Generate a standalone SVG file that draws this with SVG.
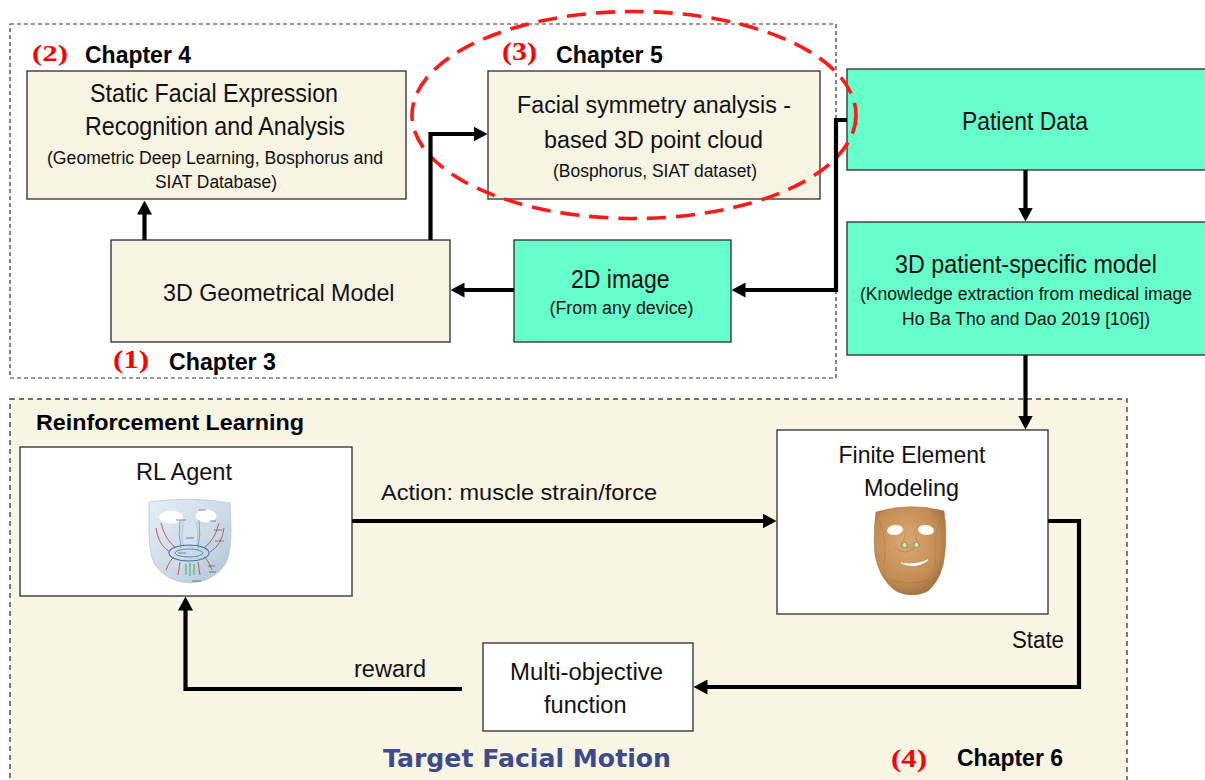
<svg xmlns="http://www.w3.org/2000/svg" width="1205" height="780" viewBox="0 0 1205 780">
  <style>
    .box { stroke: #2b2b2b; stroke-width: 1.3; }
    .beige { fill: #F8F4E3; }
    .aqua { fill: #66FFCC; }
    .white { fill: #FFFFFF; }
    .t { font-family: "Liberation Sans", Arial, sans-serif; fill: #111; }
    .b { font-family: "Liberation Sans", Arial, sans-serif; font-weight: bold; fill: #000; }
    .num { font-family: "Liberation Serif", "Times New Roman", serif; font-weight: bold; fill: #FF0000; }
    .conn { fill: none; stroke: #000; stroke-width: 4.2; stroke-linejoin: miter; }
    .frame { fill: none; stroke: #333; stroke-width: 1.2; stroke-dasharray: 4 3; }
  </style>
  <defs>
    <marker id="head" viewBox="0 0 14 15" refX="0.5" refY="7.5" markerWidth="14" markerHeight="15" orient="auto" markerUnits="userSpaceOnUse">
      <path d="M0,0 L14,7.5 L0,15 Z" fill="#000"/>
    </marker>
    <linearGradient id="maskBlue" x1="0" y1="0" x2="1" y2="1">
      <stop offset="0" stop-color="#E6EEF5"/>
      <stop offset="0.6" stop-color="#C9D9E6"/>
      <stop offset="1" stop-color="#AFC3D4"/>
    </linearGradient>
    <radialGradient id="skin" cx="0.45" cy="0.4" r="0.65">
      <stop offset="0" stop-color="#DDAA72"/>
      <stop offset="0.7" stop-color="#C38C55"/>
      <stop offset="1" stop-color="#9E6B3A"/>
    </radialGradient>
  </defs>

  <rect width="1205" height="780" fill="#FFFFFF"/>

  <!-- Upper frame (chapters 3 to 5) -->
  <rect class="frame" x="10" y="24" width="826" height="354"/>

  <!-- Lower panel: reinforcement learning loop (chapter 6) -->
  <rect x="10" y="399" width="1117" height="400" fill="#F9F5E5" stroke="#444" stroke-width="1.4" stroke-dasharray="5 4"/>

  <!-- Node: static facial expression recognition -->
  <g id="static-fer">
    <rect class="box beige" x="27" y="71" width="379" height="128"/>
    <text class="t" x="90" y="101.5" font-size="25" textLength="248" lengthAdjust="spacingAndGlyphs">Static Facial Expression</text>
    <text class="t" x="85" y="135" font-size="25" textLength="260" lengthAdjust="spacingAndGlyphs">Recognition and Analysis</text>
    <text class="t" x="47" y="164" font-size="18" textLength="336" lengthAdjust="spacingAndGlyphs">(Geometric Deep Learning, Bosphorus and</text>
    <text class="t" x="155" y="188" font-size="18" textLength="122" lengthAdjust="spacingAndGlyphs">SIAT Database)</text>
  </g>
  <g id="chapter4-label">
    <text class="num" x="32" y="61" font-size="24" textLength="36" lengthAdjust="spacingAndGlyphs">(2)</text>
    <text class="b" x="85" y="62.5" font-size="23" textLength="106" lengthAdjust="spacingAndGlyphs">Chapter 4</text>
  </g>

  <!-- Node: facial symmetry analysis -->
  <g id="symmetry">
    <rect class="box beige" x="488" y="71" width="332" height="128"/>
    <text class="t" x="517" y="113.3" font-size="23.5" textLength="274" lengthAdjust="spacingAndGlyphs">Facial symmetry analysis -</text>
    <text class="t" x="544" y="148.3" font-size="23.5" textLength="219" lengthAdjust="spacingAndGlyphs">based 3D point cloud</text>
    <text class="t" x="553" y="176.7" font-size="17.5" textLength="204" lengthAdjust="spacingAndGlyphs">(Bosphorus, SIAT dataset)</text>
  </g>
  <g id="chapter5-label">
    <text class="num" x="502" y="60" font-size="26" textLength="35" lengthAdjust="spacingAndGlyphs">(3)</text>
    <text class="b" x="556" y="62.5" font-size="23" textLength="107" lengthAdjust="spacingAndGlyphs">Chapter 5</text>
  </g>

  <!-- Node: 3D geometrical model -->
  <g id="geometrical-model">
    <rect class="box beige" x="111" y="240" width="339" height="102"/>
    <text class="t" x="163" y="301" font-size="24.5" textLength="231.5" lengthAdjust="spacingAndGlyphs">3D Geometrical Model</text>
  </g>
  <g id="chapter3-label">
    <text class="num" x="113" y="367.5" font-size="26" textLength="36" lengthAdjust="spacingAndGlyphs">(1)</text>
    <text class="b" x="169" y="370" font-size="23" textLength="107" lengthAdjust="spacingAndGlyphs">Chapter 3</text>
  </g>

  <!-- Node: 2D image -->
  <g id="image-2d">
    <rect class="box aqua" x="514" y="240" width="217" height="102"/>
    <text class="t" x="571" y="287.7" font-size="25.5" textLength="98.5" lengthAdjust="spacingAndGlyphs">2D image</text>
    <text class="t" x="549.5" y="314.3" font-size="18" textLength="144" lengthAdjust="spacingAndGlyphs">(From any device)</text>
  </g>

  <!-- Node: patient data -->
  <g id="patient-data">
    <rect class="box aqua" x="847" y="69" width="370" height="101"/>
    <text class="t" x="962" y="130" font-size="25.5" textLength="126" lengthAdjust="spacingAndGlyphs">Patient Data</text>
  </g>

  <!-- Node: 3D patient-specific model -->
  <g id="patient-model">
    <rect class="box aqua" x="847" y="222" width="370" height="133"/>
    <text class="t" x="895" y="273.3" font-size="25.5" textLength="262" lengthAdjust="spacingAndGlyphs">3D patient-specific model</text>
    <text class="t" x="860" y="300" font-size="18" textLength="332" lengthAdjust="spacingAndGlyphs">(Knowledge extraction from medical image</text>
    <text class="t" x="902" y="325" font-size="18" textLength="248" lengthAdjust="spacingAndGlyphs">Ho Ba Tho and Dao 2019 [106])</text>
  </g>

  <!-- Dashed ellipse around chapter 5 -->
  <ellipse cx="634" cy="115" rx="222" ry="103.5" fill="none" stroke="#FF1A1A" stroke-width="3.6" stroke-dasharray="19 10"/>

  <text class="b" x="36" y="430" font-size="22" textLength="268" lengthAdjust="spacingAndGlyphs">Reinforcement Learning</text>

  <!-- Node: RL agent with muscle map of the face -->
  <g id="rl-agent">
    <rect class="box white" x="20" y="447" width="332" height="149"/>
    <text class="t" x="136" y="480" font-size="24" textLength="96" lengthAdjust="spacingAndGlyphs">RL Agent</text>
    <g id="muscle-mask">
      <path d="M149,502 Q190,496 230,503 L231,530 Q231,552 226,563 Q214,582 190,583 Q166,582 154,563 Q149,552 149,530 Z" fill="url(#maskBlue)" stroke="#B5C6D4" stroke-width="0.8"/>
      <ellipse cx="171" cy="517" rx="12" ry="6.5" fill="#FFFFFF"/>
      <ellipse cx="206" cy="516" rx="10.5" ry="6.5" fill="#FFFFFF"/>
      <path d="M183,522 Q181,535 183,545 Q190,548 197,545 Q199,535 196,522" fill="#D6E3EE" stroke="#9FB4C6" stroke-width="0.6"/>
      <ellipse cx="189" cy="553" rx="20" ry="8" fill="none" stroke="#3E78A8" stroke-width="1.1"/>
      <ellipse cx="189" cy="553" rx="14" ry="4" fill="none" stroke="#3E78A8" stroke-width="0.8"/>
      <g fill="none" stroke="#C24A5C" stroke-width="0.9">
        <path d="M161,523 Q165,540 176,548"/>
        <path d="M156,528 Q158,545 170,552"/>
        <path d="M219,523 Q215,540 204,548"/>
        <path d="M224,528 Q222,545 210,552"/>
        <path d="M166,570 Q170,560 174,557"/>
        <path d="M212,570 Q208,560 204,557"/>
        <path d="M178,575 L180,562"/>
        <path d="M200,575 L198,562"/>
      </g>
      <g fill="none" stroke="#3FA6C9" stroke-width="0.8">
        <path d="M180,520 Q178,535 181,548"/>
        <path d="M199,520 Q201,535 198,548"/>
      </g>
      <g fill="none" stroke="#5BB36A" stroke-width="1.2">
        <path d="M186,564 L186,575 M190,563 L190,576 M194,564 L194,575"/>
      </g>
      <g stroke="#444" stroke-width="0.6">
        <path d="M199,510 L206,510 M176,520 L186,520 M210,521 L216,521 M214,530 L222,530 M215,541 L224,541 M186,538 L194,538 M178,553 L186,553 M208,566 L215,566 M209,572 L216,572 M192,581 L201,581"/>
      </g>
    </g>
  </g>

  <!-- Node: finite element modeling with deformable face mesh -->
  <g id="fem">
    <rect class="box white" x="777" y="430" width="271" height="184"/>
    <text class="t" x="838.5" y="463.3" font-size="24" textLength="147" lengthAdjust="spacingAndGlyphs">Finite Element</text>
    <text class="t" x="864" y="496" font-size="24" textLength="95" lengthAdjust="spacingAndGlyphs">Modeling</text>
    <g id="fem-face">
      <path d="M876,512 Q910,502 944,511 Q947,530 945,552 Q943,578 928,591 Q912,599 896,591 Q880,580 875,555 Q873,532 876,512 Z" fill="url(#skin)" stroke="#A87845" stroke-width="0.6"/>
      <path d="M879,520 Q888,540 884,565 M940,520 Q932,542 936,566 M895,548 Q905,556 915,548 M892,580 Q910,586 928,580" fill="none" stroke="#A9733F" stroke-width="0.8" opacity="0.7"/>
      <ellipse cx="895" cy="530" rx="8" ry="5" fill="#FFFFFF" transform="rotate(-8 895 530)"/>
      <ellipse cx="926" cy="530" rx="8" ry="5" fill="#FFFFFF" transform="rotate(8 926 530)"/>
      <path d="M906,532 Q904,541 900,546 Q910,550 920,546 Q916,541 915,532" fill="#D4A26B" stroke="#B07C47" stroke-width="0.5"/>
      <circle cx="904.5" cy="545" r="2.6" fill="#CFE7C2" stroke="#6F8F4A" stroke-width="0.8"/>
      <circle cx="916.5" cy="545" r="2.6" fill="#CFE7C2" stroke="#6F8F4A" stroke-width="0.8"/>
      <path d="M901,563 Q914,566 928,560 Q915,569 901,563 Z" fill="#FFFFFF" stroke="#FFFFFF" stroke-width="1.2"/>
    </g>
  </g>

  <!-- Node: multi-objective function -->
  <g id="multi-objective">
    <rect class="box white" x="483" y="643" width="210" height="88"/>
    <text class="t" x="510" y="680" font-size="23.5" textLength="153" lengthAdjust="spacingAndGlyphs">Multi-objective</text>
    <text class="t" x="544" y="713.3" font-size="23.5" textLength="82.5" lengthAdjust="spacingAndGlyphs">function</text>
  </g>

  <g id="chapter6-label">
    <text x="383" y="766.5" font-family="'DejaVu Sans', Verdana, sans-serif" font-weight="bold" font-size="24" fill="#3E4A8C" textLength="288" lengthAdjust="spacingAndGlyphs">Target Facial Motion</text>
    <text class="num" x="891" y="766.5" font-size="26" textLength="36" lengthAdjust="spacingAndGlyphs">(4)</text>
    <text class="b" x="957" y="766" font-size="23" textLength="106" lengthAdjust="spacingAndGlyphs">Chapter 6</text>
  </g>

  <!-- Connectors -->
  <g id="connectors">
    <path class="conn" d="M144.5,240 V214" marker-end="url(#head)"/>
    <path class="conn" d="M430.5,240 V134 H474" marker-end="url(#head)"/>
    <path class="conn" d="M847,120 H836 V290 H745" marker-end="url(#head)"/>
    <path class="conn" d="M514,290 H464" marker-end="url(#head)"/>
    <path class="conn" d="M1025.5,170 V208" marker-end="url(#head)"/>
    <path class="conn" d="M1025.5,355 V416" marker-end="url(#head)"/>
    <path class="conn" d="M352,521 H763" marker-end="url(#head)"/>
    <path class="conn" d="M1048,521 H1079 V687 H707" marker-end="url(#head)"/>
    <path class="conn" d="M462,689 H185.5 V610" marker-end="url(#head)"/>
    <text class="t" x="381" y="500" font-size="22" textLength="276" lengthAdjust="spacingAndGlyphs">Action: muscle strain/force</text>
    <text class="t" x="1012" y="648.3" font-size="23" textLength="52" lengthAdjust="spacingAndGlyphs">State</text>
    <text class="t" x="354" y="676.7" font-size="23" textLength="72" lengthAdjust="spacingAndGlyphs">reward</text>
  </g>
</svg>
